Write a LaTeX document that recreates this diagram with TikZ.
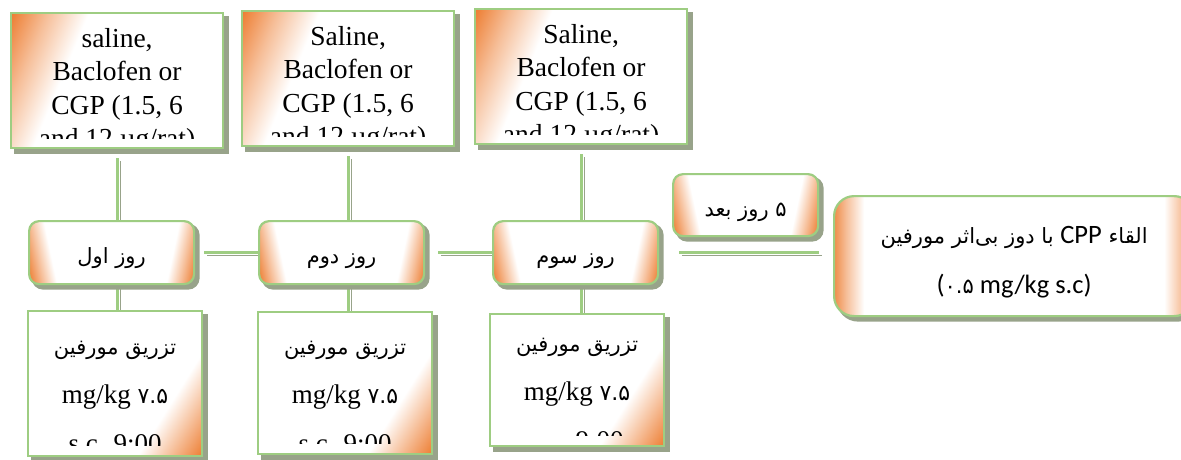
\documentclass[tikz,border=0pt]{standalone}
\usepackage{fontspec}
\setmainfont{Liberation Serif}
\newfontfamily\arabicfont[Script=Arabic]{DejaVu Sans}
\newfontfamily\calibfont{Carlito}
\TeXXeTstate=1
\usetikzlibrary{calc,backgrounds}
\definecolor{gborder}{RGB}{158,205,130}
\definecolor{gshadow}{RGB}{152,163,138}
\definecolor{org}{RGB}{237,125,49}
\colorlet{orgmid}{org!50!white}
\pgfdeclarehorizontalshading{tlgrad}{100bp}{color(0bp)=(org); color(50bp)=(org); color(52.8bp)=(orgmid); color(56bp)=(white); color(100bp)=(white)}
\pgfdeclarehorizontalshading{brgrad}{100bp}{color(0bp)=(white); color(45.4bp)=(white); color(47.7bp)=(orgmid); color(50bp)=(org); color(100bp)=(org)}
\pgfdeclarehorizontalshading{sidegrad}{100bp}{color(0bp)=(org); color(49.5bp)=(org); color(50.6bp)=(orgmid); color(51.75bp)=(white); color(100bp)=(white)}
\pgfdeclarehorizontalshading{biggrad}{100bp}{color(0bp)=(org); color(49.7bp)=(org); color(51bp)=(orgmid); color(52.5bp)=(white); color(100bp)=(white)}
\tikzset{
  boxbase/.style={draw=gborder, line width=2.2pt, fill=white, inner sep=0pt, anchor=north west,
    preaction={draw=gshadow, fill=gshadow, line width=3pt, transform canvas={shift={(4pt,-4pt)}}}},
  toptext/.style={anchor=north, inner sep=0pt, align=center, font=\fontsize{27.5}{33.5}\selectfont},
  bottext/.style={anchor=north, inner sep=0pt, align=center, font=\fontsize{27}{49}\selectfont},
  topbox/.style 2 args={boxbase, minimum width=212pt, minimum height=135pt,
    path picture={
      \shade[shading=tlgrad, shading angle=-22.6] ([shift={(-300pt,-300pt)}]path picture bounding box.north west) rectangle ([shift={(300pt,300pt)}]path picture bounding box.north west);
      \begin{scope}
        \clip ([shift={(-5pt,5pt)}]path picture bounding box.north west) rectangle ([shift={(5pt,10pt)}]path picture bounding box.south east);
        \node[toptext] (#2) at ([yshift=-7pt]path picture bounding box.north) {#1};
      \end{scope}}},
  botbox/.style 2 args={boxbase, minimum width=174pt,
    path picture={
      \shade[shading=brgrad, shading angle=-32] ([shift={(-300pt,-300pt)}]path picture bounding box.south east) rectangle ([shift={(300pt,300pt)}]path picture bounding box.south east);
      \begin{scope}
        \clip ([shift={(-5pt,5pt)}]path picture bounding box.north west) rectangle ([shift={(5pt,11pt)}]path picture bounding box.south east);
        \node[bottext] (#2) at ([yshift=-7pt]path picture bounding box.north) {#1};
      \end{scope}}},
  sideshade/.style 2 args={path picture={
      \begin{scope}
        \clip (path picture bounding box.north west) rectangle (path picture bounding box.south);
        \shade[shading=#1, shading angle=#2] ([shift={(-300pt,-300pt)}]path picture bounding box.west) rectangle ([shift={(300pt,300pt)}]path picture bounding box.west);
      \end{scope}
      \begin{scope}
        \clip (path picture bounding box.north) rectangle (path picture bounding box.south east);
        \shade[shading=#1, shading angle=180-#2] ([shift={(-300pt,-300pt)}]path picture bounding box.east) rectangle ([shift={(300pt,300pt)}]path picture bounding box.east);
      \end{scope}}},
  daybox/.style={boxbase, rounded corners=10pt, minimum width=165pt, minimum height=63pt,
    text height=24pt, text depth=2pt,
    font=\arabicfont\fontsize{21}{24}\selectfont, sideshade={sidegrad}{12}},
  bigbox/.style={boxbase, rounded corners=20pt, minimum width=360pt, minimum height=120pt,
    align=center, font=\calibfont\fontsize{26.5}{50}\selectfont, sideshade={biggrad}{0}},
  conn/.style={draw=gborder, line width=2.8pt,
    preaction={draw=gshadow, transform canvas={shift={(3pt,-3pt)}}}}
}
\begin{document}
\begin{tikzpicture}[x=1pt, y=-1pt]
\useasboundingbox (0,0) rectangle (1181,459);
% boxes
\node[topbox={\rule{0pt}{24pt}saline,\\Baclofen or\\CGP (1.5, 6\\and 12 µg/rat)}{s1t}] (s1) at (10,12) {};
\node[topbox={\rule{0pt}{24pt}Saline,\\Baclofen or\\CGP (1.5, 6\\and 12 µg/rat)}{s2t}] (s2) at (241,10) {};
\node[topbox={\rule{0pt}{24pt}Saline,\\Baclofen or\\CGP (1.5, 6\\and 12 µg/rat)}{s3t}] (s3) at (474,8) {};

\node[daybox] (d1) at (28,220) {\beginR روز اول\endR};
\node[daybox] (d2) at (258,220) {\beginR روز دوم\endR};
\node[daybox] (d3) at (492,220) {\beginR روز سوم\endR};
\node[daybox, minimum width=145pt, minimum height=62pt] (later) at (672,173) {\beginR ۵ روز بعد\endR};

\node[bigbox] (big) at (833,195) {{\arabicfont\fontsize{21}{50}\selectfont\rule{0pt}{30pt}\beginR القاء \beginL{\calibfont\fontsize{26.5}{50}\selectfont CPP}\endL{} با دوز  بی‌اثر مورفین\endR}\\({\arabicfont\fontsize{21}{50}\selectfont ۰.۵} mg/kg s.c)};

\node[botbox={{\arabicfont\fontsize{21}{49}\selectfont\rule{0pt}{24pt}\beginR تزریق مورفین\endR}\\mg/kg {\arabicfont\fontsize{22}{49}\selectfont ۷.۵}\\s.c. 9:00}{b1t}, minimum height=145pt] (b1) at (27,310) {};
\node[botbox={{\arabicfont\fontsize{21}{49}\selectfont\rule{0pt}{24pt}\beginR تزریق مورفین\endR}\\mg/kg {\arabicfont\fontsize{22}{49}\selectfont ۷.۵}\\s.c. 9:00}{b2t}, minimum height=142pt] (b2) at (257,311) {};
\node[botbox={{\arabicfont\fontsize{21}{49}\selectfont\rule{0pt}{24pt}\beginR تزریق مورفین\endR}\\mg/kg {\arabicfont\fontsize{22}{49}\selectfont ۷.۵}\\s.c. 9:00}{b3t}, minimum height=132pt] (b3) at (489,313) {};

% connectors
\begin{pgfonlayer}{background}
\draw[conn, shorten <=9pt] (s1.south) -- (s1.south |- d1.north);
\draw[conn, shorten <=9pt] (s2.south) -- (s2.south |- d2.north);
\draw[conn, shorten <=9pt] (s3.south) -- (s3.south |- d3.north);
\draw[conn] (s1.south |- d1.south) -- (s1.south |- b1.north);
\draw[conn] (s2.south |- d2.south) -- (s2.south |- b2.north);
\draw[conn] (s3.south |- d3.south) -- (s3.south |- b3.north);
\draw[conn, shorten <=9pt] (d1.east) -- (d2.west);
\draw[conn, shorten <=13pt] (d2.east) -- (d3.west);
\draw[conn, shorten <=20pt, shorten >=14pt] (d3.east) -- (d3.east -| big.west);
\end{pgfonlayer}
\end{tikzpicture}
\end{document}
